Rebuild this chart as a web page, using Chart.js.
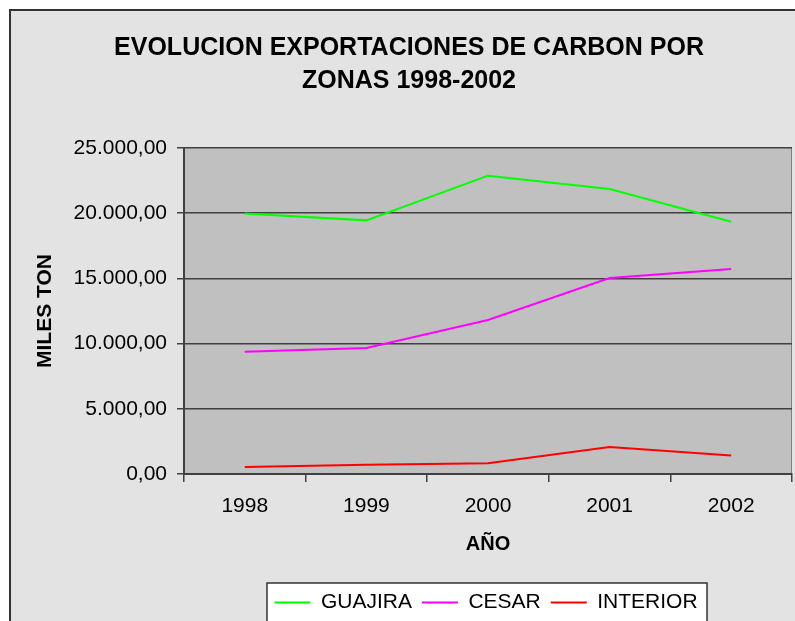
<!DOCTYPE html>
<html>
<head>
<meta charset="utf-8">
<script src="https://cdn.jsdelivr.net/npm/chart.js@4.4.1/dist/chart.umd.min.js"></script>
<style>
  html, body { margin: 0; padding: 0; background: #fff; }
</style>
</head>
<body>
<canvas id="chart" width="795" height="621"></canvas>
<script>
// Datos (miles de toneladas)
const years    = ['1998', '1999', '2000', '2001', '2002'];
const guajira  = [19970, 19450, 22880, 21860, 19350];
const cesar    = [9380, 9660, 11810, 15030, 15720];
const interior = [540, 700, 830, 2070, 1420];
const yTicks   = [0, 5000, 10000, 15000, 20000, 25000];

// 25000 -> "25.000,00"
function fmtMiles(v) {
  const [ent, dec] = Number(v).toFixed(2).split('.');
  return ent.replace(/\B(?=(\d{3})+(?!\d))/g, '.') + ',' + dec;
}

Chart.defaults.font.family = "'Liberation Sans', Arial, sans-serif";
Chart.defaults.color = '#000';

// fondo del grafico, area de trazado y marco de la leyenda
const fondo = {
  id: 'fondo',
  afterLayout(chart) {
    // leyenda centrada bajo el area de trazado, como en Excel
    const lg = chart.legend;
    lg.left = 246; lg.width = 480; lg.right = lg.left + lg.width;
    lg.top += 2; lg.bottom += 2;
    const tb = chart.titleBlock;
    tb.left = 23; tb.right = chart.width; tb.width = tb.right - tb.left;
  },
  beforeDraw(chart) {
    const { ctx, chartArea: a } = chart;
    ctx.save();
    ctx.fillStyle = '#fff';
    ctx.fillRect(0, 0, chart.width, chart.height);
    ctx.fillStyle = '#E3E3E3';
    ctx.fillRect(10, 10, 800, 640);
    ctx.strokeStyle = '#333';
    ctx.lineWidth = 2;
    ctx.strokeRect(10, 10, 800, 640);
    ctx.fillStyle = '#C0C0C0';
    ctx.fillRect(a.left, a.top, a.right - a.left, a.bottom - a.top);
    ctx.strokeStyle = '#808080';
    ctx.lineWidth = 1;
    ctx.beginPath();
    ctx.moveTo(a.right - 0.5, a.top);
    ctx.lineTo(a.right - 0.5, a.bottom);
    ctx.stroke();
    // leyenda
    ctx.fillStyle = '#fff';
    ctx.fillRect(267, 583, 440, 60);
    ctx.strokeStyle = '#333';
    ctx.lineWidth = 1.5;
    ctx.strokeRect(267, 583, 440, 60);
    ctx.restore();
  }
};

new Chart(document.getElementById('chart'), {
  type: 'line',
  data: {
    labels: years,
    datasets: [
      { label: 'GUAJIRA',  data: guajira,  borderColor: '#00FF00', backgroundColor: '#00FF00' },
      { label: 'CESAR',    data: cesar,    borderColor: '#FF00FF', backgroundColor: '#FF00FF' },
      { label: 'INTERIOR', data: interior, borderColor: '#FF0000', backgroundColor: '#FF0000' },
    ].map(d => ({ ...d, borderWidth: 2, pointRadius: 0, tension: 0, fill: false })),
  },
  options: {
    responsive: false,
    animation: false,
    layout: { padding: { left: 0, right: 3, top: 0, bottom: 0 } },
    plugins: {
      title: {
        display: true,
        text: ['EVOLUCION EXPORTACIONES DE CARBON POR', 'ZONAS 1998-2002'],
        font: { size: 25, weight: 'bold', lineHeight: 1.32 },
        color: '#000',
        padding: { top: 31.5, bottom: 50.5 },
      },
      legend: {
        position: 'bottom',
        labels: {
          usePointStyle: true, pointStyle: 'line', pointStyleWidth: 36,
          padding: 10, color: '#000', font: { size: 21 },
        },
      },
      tooltip: { enabled: false },
    },
    scales: {
      x: {
        offset: true,
        grid: { offset: true, drawOnChartArea: false, color: '#404040', lineWidth: 1.5, tickLength: 8 },
        border: { color: '#404040', width: 2 },
        ticks: { padding: 12, color: '#000', font: { size: 21 } },
        title: { display: true, text: 'AÑO', color: '#000', font: { size: 20, weight: 'bold' }, padding: { top: 0, bottom: 23.5 } },
        afterFit: s => { s.height = 106; },
      },
      y: {
        min: yTicks[0],
        max: yTicks[yTicks.length - 1],
        ticks: { stepSize: yTicks[1] - yTicks[0], padding: 10, color: '#000', font: { size: 21 }, callback: v => fmtMiles(v) },
        grid: { color: '#404040', lineWidth: 1.5, tickLength: 7 },
        border: { color: '#404040', width: 2 },
        title: { display: true, text: 'MILES TON', color: '#000', font: { size: 21, weight: 'bold' }, padding: { top: 33, bottom: 0 } },
        afterFit: s => { s.width = 184; },
      },
    },
  },
  plugins: [fondo],
});
</script>
</body>
</html>
